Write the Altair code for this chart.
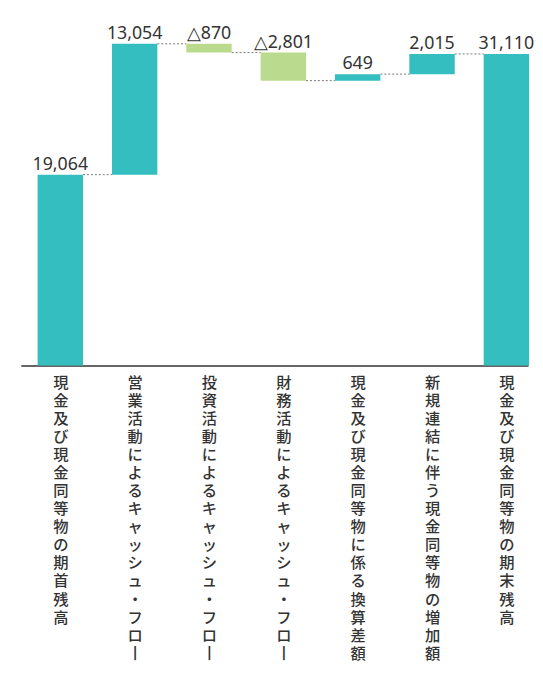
import altair as alt
import pandas as pd

categories = [
    "現金及び現金同等物の期首残高",
    "営業活動によるキャッシュ・フロー",
    "投資活動によるキャッシュ・フロー",
    "財務活動によるキャッシュ・フロー",
    "現金及び現金同等物に係る換算差額",
    "新規連結に伴う現金同等物の増加額",
    "現金及び現金同等物の期末残高",
]
values = [19064, 13054, -870, -2801, 649, 2015, 31110]
kinds = ["total", "delta", "delta", "delta", "delta", "delta", "total"]

HALF = 0.3053  # half bar width in category steps

rows = []
running = 0
for i, (c, v, k) in enumerate(zip(categories, values, kinds)):
    if k == "total":
        start, end = 0, v
        running = v
    else:
        start, end = running, running + v
        running = end
    label = f"△{abs(v):,}" if v < 0 else f"{v:,}"
    rows.append({
        "idx": i, "x0": i - HALF, "x1": i + HALF,
        "nx": i + 1 - HALF,
        "start": start, "end": end, "top": max(start, end),
        "label": label, "neg": "neg" if v < 0 else "pos",
    })
df = pd.DataFrame(rows)
conn = df.iloc[:-1].copy()

# vertical (tategaki) labels: long vowel mark drawn as a vertical stroke
cats_js = "[" + ",".join("'" + c.replace("ー", "丨") + "'" for c in categories) + "]"

xscale = alt.Scale(domain=[-0.531, 6.292], nice=False, zero=False)
yscale = alt.Scale(domain=[0, 35266], nice=False, zero=True)

xaxis = alt.Axis(
    title="", values=list(range(len(categories))), ticks=False, grid=False,
    domain=True, domainColor="#333333", domainWidth=1.5,
    labelAngle=0, labelAlign="center", labelBaseline="top",
    labelExpr=f"split({cats_js}[datum.value], '')",
    labelFont="Noto Sans CJK JP", labelFontSize=15.5, labelFontWeight=500,
    labelLineHeight=18.3,
    labelColor="#333333", labelPadding=10, labelLimit=1000,
    labelOverlap=False, labelFlush=False,
)
yaxis = alt.Axis(
    title="", labels=False, ticks=False, domain=False, grid=False,
    minExtent=13, maxExtent=13,
)

bars = alt.Chart(df).mark_bar().encode(
    x=alt.X("x0:Q", scale=xscale, axis=xaxis),
    x2="x1:Q",
    y=alt.Y("start:Q", scale=yscale, axis=yaxis),
    y2="end:Q",
    color=alt.Color("neg:N", scale=alt.Scale(domain=["pos", "neg"], range=["#35BEBF", "#BADB8D"]), legend=None),
)

text = alt.Chart(df).mark_text(
    font="Noto Sans", fontSize=18, color="#333333", baseline="alphabetic", dy=-5
).encode(
    x=alt.X("idx:Q", scale=xscale),
    y=alt.Y("top:Q", scale=yscale),
    text="label:N",
)

rules = alt.Chart(conn).mark_rule(
    color="#777777", strokeDash=[2, 2], strokeWidth=1
).encode(
    x=alt.X("x1:Q", scale=xscale),
    x2="nx:Q",
    y=alt.Y("end:Q", scale=yscale),
)

chart = alt.layer(rules, bars, text).properties(
    width=514, height=358, padding=0,
).configure_view(stroke="transparent")

chart.save("out.html", embed_options={"renderer": "svg", "actions": False})
